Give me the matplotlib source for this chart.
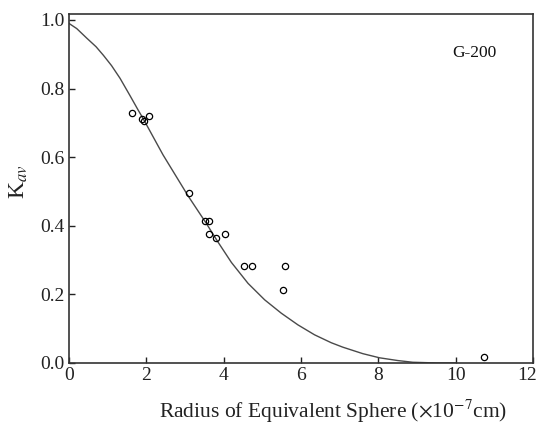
import matplotlib
matplotlib.use('Agg')
from matplotlib import pyplot as plt
from matplotlib.transforms import ScaledTranslation

plt.rcParams['font.family'] = ['Liberation Serif', 'DejaVu Serif']
plt.rcParams['mathtext.fontset'] = 'stix'

# fitted curve
curve_r = [0.0, 0.2, 0.46, 0.7, 0.89, 1.1, 1.32, 1.57, 1.79, 1.92, 2.43, 3.08,
           3.55, 3.85, 4.20, 4.63, 5.06, 5.49, 5.92, 6.35, 6.78, 7.08, 7.6,
           8.03, 8.5, 8.89, 9.5, 10.0]
curve_k = [0.99, 0.975, 0.947, 0.922, 0.897, 0.867, 0.83, 0.781, 0.737, 0.712,
           0.607, 0.487, 0.407, 0.353, 0.293, 0.232, 0.184, 0.145, 0.111, 0.082,
           0.059, 0.046, 0.027, 0.015, 0.007, 0.002, 0.0, 0.0]

# measured points
radius = [1.62, 1.90, 1.93, 2.07, 3.10, 3.51, 3.62, 3.62, 3.81, 4.03,
          4.52, 4.73, 5.59, 5.53, 10.74]
kav = [0.730, 0.711, 0.705, 0.721, 0.495, 0.415, 0.415, 0.375, 0.364, 0.375,
       0.283, 0.283, 0.283, 0.213, 0.017]

xticks = [0, 2, 4, 6, 8, 10, 12]
yticks = [0.0, 0.2, 0.4, 0.6, 0.8, 1.0]

fig = plt.figure(figsize=(5.39, 4.24), dpi=100)
ax = fig.add_axes([0.128, 0.144, 0.861, 0.823])

ax.plot(curve_r, curve_k, color='#4a4a4a', lw=1.0)
ax.plot(radius, kav, 'o', mfc='none', mec='black', ms=4.5, mew=0.9)

ax.set_xlim(0, 12)
ax.set_ylim(0, 1.0175)
ax.set_xticks(xticks)
ax.set_xticklabels([str(t) for t in xticks])
ax.set_yticks(yticks)
ax.set_yticklabels(['%.1f' % t for t in yticks])
ax.tick_params(direction='in', length=4, width=1, labelsize=14, colors='#222222', pad=3)

# last x label sits tight against the right edge
last = ax.get_xticklabels()[-1]
last.set_transform(last.get_transform() + ScaledTranslation(-4 / 72, 0, fig.dpi_scale_trans))

for s in ax.spines.values():
    s.set_color('#333333')
    s.set_linewidth(1.2)

ax.text(10.48, 0.904, 'G-200', fontsize=12.5, ha='center', va='center', color='#111111')

ax.set_xlabel(r'Radius of Equivalent Sphere ($\times$10$^{-7}$cm)', fontsize=15.5, color='#222222')
ax.xaxis.set_label_coords(0.57, -0.1)
ax.set_ylabel(r'K$_{\mathit{av}}$', fontsize=17, color='#222222')
ax.yaxis.set_label_coords(-0.085, 0.52)

fig.savefig('out.png', dpi=100)
